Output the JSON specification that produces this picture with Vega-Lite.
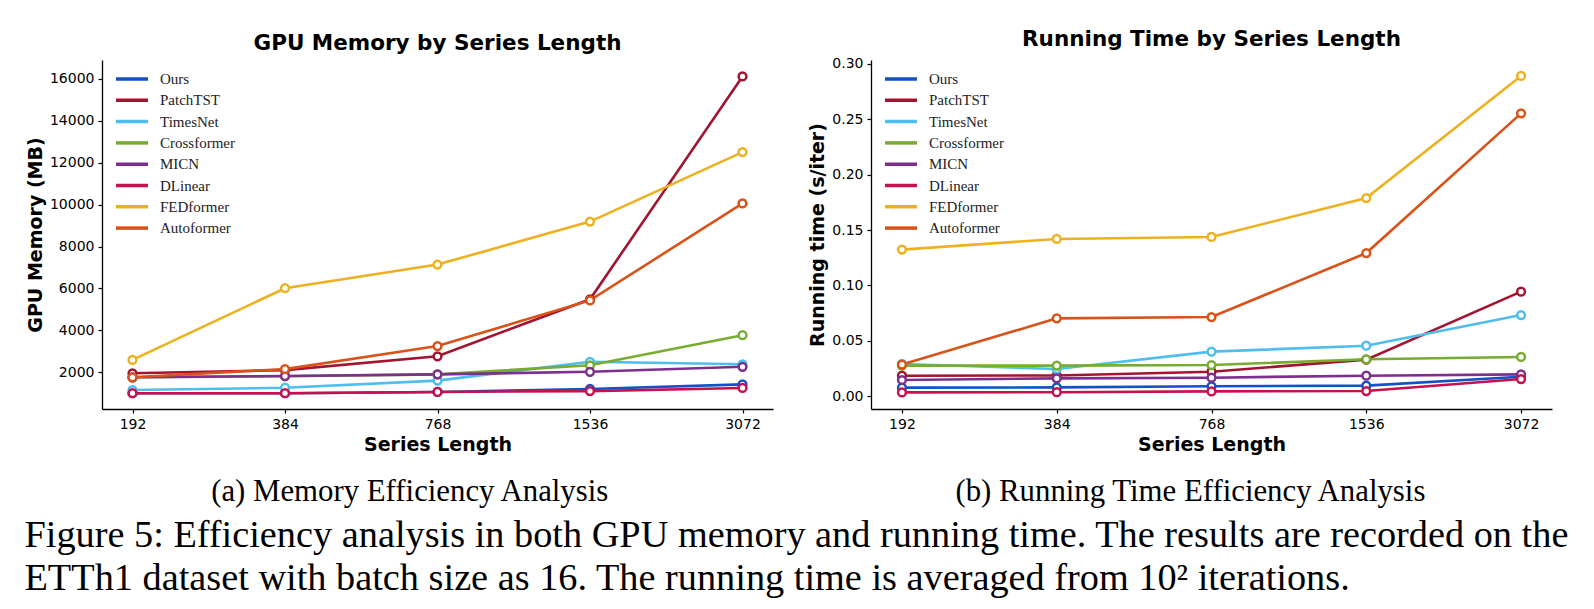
{
  "$schema": "https://vega.github.io/schema/vega-lite/v6.json",
  "background": "white",
  "padding": {"left": 24, "top": 29, "right": 5, "bottom": 5},
  "spacing": 35,
  "datasets": {
    "mem": [
      {"len": "192", "model": "Ours", "v": 1000}, {"len": "384", "model": "Ours", "v": 1000}, {"len": "768", "model": "Ours", "v": 1060}, {"len": "1536", "model": "Ours", "v": 1200}, {"len": "3072", "model": "Ours", "v": 1420},
      {"len": "192", "model": "PatchTST", "v": 1950}, {"len": "384", "model": "PatchTST", "v": 2100}, {"len": "768", "model": "PatchTST", "v": 2760}, {"len": "1536", "model": "PatchTST", "v": 5480}, {"len": "3072", "model": "PatchTST", "v": 16120},
      {"len": "192", "model": "TimesNet", "v": 1150}, {"len": "384", "model": "TimesNet", "v": 1260}, {"len": "768", "model": "TimesNet", "v": 1600}, {"len": "1536", "model": "TimesNet", "v": 2500}, {"len": "3072", "model": "TimesNet", "v": 2380},
      {"len": "192", "model": "Crossformer", "v": 1760}, {"len": "384", "model": "Crossformer", "v": 1810}, {"len": "768", "model": "Crossformer", "v": 1900}, {"len": "1536", "model": "Crossformer", "v": 2330}, {"len": "3072", "model": "Crossformer", "v": 3770},
      {"len": "192", "model": "MICN", "v": 1760}, {"len": "384", "model": "MICN", "v": 1820}, {"len": "768", "model": "MICN", "v": 1900}, {"len": "1536", "model": "MICN", "v": 2020}, {"len": "3072", "model": "MICN", "v": 2260},
      {"len": "192", "model": "DLinear", "v": 1000}, {"len": "384", "model": "DLinear", "v": 1000}, {"len": "768", "model": "DLinear", "v": 1060}, {"len": "1536", "model": "DLinear", "v": 1100}, {"len": "3072", "model": "DLinear", "v": 1250},
      {"len": "192", "model": "FEDformer", "v": 2590}, {"len": "384", "model": "FEDformer", "v": 6010}, {"len": "768", "model": "FEDformer", "v": 7140}, {"len": "1536", "model": "FEDformer", "v": 9190}, {"len": "3072", "model": "FEDformer", "v": 12510},
      {"len": "192", "model": "Autoformer", "v": 1760}, {"len": "384", "model": "Autoformer", "v": 2150}, {"len": "768", "model": "Autoformer", "v": 3250}, {"len": "1536", "model": "Autoformer", "v": 5430}, {"len": "3072", "model": "Autoformer", "v": 10060}
    ],
    "time": [
      {"len": "192", "model": "Ours", "v": 0.0076}, {"len": "384", "model": "Ours", "v": 0.0078}, {"len": "768", "model": "Ours", "v": 0.0088}, {"len": "1536", "model": "Ours", "v": 0.0094}, {"len": "3072", "model": "Ours", "v": 0.0175},
      {"len": "192", "model": "PatchTST", "v": 0.0184}, {"len": "384", "model": "PatchTST", "v": 0.0186}, {"len": "768", "model": "PatchTST", "v": 0.022}, {"len": "1536", "model": "PatchTST", "v": 0.0329}, {"len": "3072", "model": "PatchTST", "v": 0.0943},
      {"len": "192", "model": "TimesNet", "v": 0.029}, {"len": "384", "model": "TimesNet", "v": 0.0244}, {"len": "768", "model": "TimesNet", "v": 0.0401}, {"len": "1536", "model": "TimesNet", "v": 0.0455}, {"len": "3072", "model": "TimesNet", "v": 0.0732},
      {"len": "192", "model": "Crossformer", "v": 0.0275}, {"len": "384", "model": "Crossformer", "v": 0.0275}, {"len": "768", "model": "Crossformer", "v": 0.028}, {"len": "1536", "model": "Crossformer", "v": 0.0332}, {"len": "3072", "model": "Crossformer", "v": 0.0353},
      {"len": "192", "model": "MICN", "v": 0.0145}, {"len": "384", "model": "MICN", "v": 0.016}, {"len": "768", "model": "MICN", "v": 0.0166}, {"len": "1536", "model": "MICN", "v": 0.0184}, {"len": "3072", "model": "MICN", "v": 0.0196},
      {"len": "192", "model": "DLinear", "v": 0.0033}, {"len": "384", "model": "DLinear", "v": 0.0035}, {"len": "768", "model": "DLinear", "v": 0.0042}, {"len": "1536", "model": "DLinear", "v": 0.0045}, {"len": "3072", "model": "DLinear", "v": 0.0154},
      {"len": "192", "model": "FEDformer", "v": 0.1323}, {"len": "384", "model": "FEDformer", "v": 0.1419}, {"len": "768", "model": "FEDformer", "v": 0.1437}, {"len": "1536", "model": "FEDformer", "v": 0.1789}, {"len": "3072", "model": "FEDformer", "v": 0.2892},
      {"len": "192", "model": "Autoformer", "v": 0.0284}, {"len": "384", "model": "Autoformer", "v": 0.0702}, {"len": "768", "model": "Autoformer", "v": 0.0714}, {"len": "1536", "model": "Autoformer", "v": 0.1292}, {"len": "3072", "model": "Autoformer", "v": 0.2554}
    ]
  },
  "title": {
    "text": ["Figure 5: Efficiency analysis in both GPU memory and running time. The results are recorded on the", "ETTh1 dataset with batch size as 16. The running time is averaged from 10² iterations."],
    "orient": "bottom",
    "anchor": "start",
    "font": "Liberation Serif",
    "fontSize": 38.3,
    "fontWeight": "normal",
    "lineHeight": 43,
    "color": "black",
    "offset": 10,
    "dx": -2
  },
  "hconcat": [
    {
      "title": {"text": "(a) Memory Efficiency Analysis", "orient": "bottom", "anchor": "middle", "font": "Liberation Serif", "fontSize": 30.8, "fontWeight": "normal", "color": "black", "offset": 23, "dx": 10},
      "vconcat": [
        {
          "width": 671,
          "height": 349,
          "data": {"name": "mem"},
          "title": {"text": "GPU Memory by Series Length", "font": "DejaVu Sans", "fontSize": 21.5, "fontWeight": "bold", "color": "black", "offset": 6, "anchor": "middle"},
          "encoding": {
            "x": {"field": "len", "type": "ordinal", "sort": ["192", "384", "768", "1536", "3072"], "scale": {"type": "point", "padding": 0.2}, "axis": {"title": "Series Length", "labelAngle": 0}},
            "y": {"field": "v", "type": "quantitative", "scale": {"domain": [245, 16905], "nice": false, "zero": false}, "axis": {"title": "GPU Memory (MB)", "values": [2000, 4000, 6000, 8000, 10000, 12000, 14000, 16000], "format": "d"}},
            "color": {"field": "model", "type": "nominal", "sort": ["Ours", "PatchTST", "TimesNet", "Crossformer", "MICN", "DLinear", "FEDformer", "Autoformer"],
              "scale": {"domain": ["Ours", "PatchTST", "TimesNet", "Crossformer", "MICN", "DLinear", "FEDformer", "Autoformer"], "range": ["#1152C6", "#A2142F", "#4DBEEE", "#77AC30", "#7E2F8E", "#C7114F", "#EDB120", "#D95319"]},
              "legend": {"orient": "none", "legendX": 12, "legendY": 11, "title": null, "symbolType": "stroke", "symbolSize": 1024, "symbolStrokeWidth": 3.5, "clipHeight": 16, "rowPadding": 5.3, "labelFont": "Liberation Serif", "labelFontSize": 15, "labelColor": "#222", "labelOffset": 10, "padding": 0}
            }
          },
          "layer": [
            {"mark": {"type": "line", "strokeWidth": 2.6}},
            {"mark": {"type": "point", "shape": "circle", "filled": false, "fill": "white", "fillOpacity": 1, "opacity": 1, "size": 60, "strokeWidth": 2.5}}
          ]
        }
      ]
    },
    {
      "title": {"text": "(b) Running Time Efficiency Analysis", "orient": "bottom", "anchor": "middle", "font": "Liberation Serif", "fontSize": 30.8, "fontWeight": "normal", "color": "black", "offset": 23, "dx": 10},
      "vconcat": [
        {
          "width": 681,
          "height": 349,
          "data": {"name": "time"},
          "title": {"text": "Running Time by Series Length", "font": "DejaVu Sans", "fontSize": 21.5, "fontWeight": "bold", "color": "black", "offset": 6, "anchor": "middle"},
          "encoding": {
            "x": {"field": "len", "type": "ordinal", "sort": ["192", "384", "768", "1536", "3072"], "scale": {"type": "point", "padding": 0.2}, "axis": {"title": "Series Length", "labelAngle": 0}},
            "y": {"field": "v", "type": "quantitative", "scale": {"domain": [-0.0117, 0.3036], "nice": false, "zero": false}, "axis": {"title": "Running time (s/iter)", "values": [0, 0.05, 0.1, 0.15, 0.2, 0.25, 0.3], "format": ".2f"}},
            "color": {"field": "model", "type": "nominal", "sort": ["Ours", "PatchTST", "TimesNet", "Crossformer", "MICN", "DLinear", "FEDformer", "Autoformer"],
              "scale": {"domain": ["Ours", "PatchTST", "TimesNet", "Crossformer", "MICN", "DLinear", "FEDformer", "Autoformer"], "range": ["#1152C6", "#A2142F", "#4DBEEE", "#77AC30", "#7E2F8E", "#C7114F", "#EDB120", "#D95319"]},
              "legend": {"orient": "none", "legendX": 12, "legendY": 11, "title": null, "symbolType": "stroke", "symbolSize": 1024, "symbolStrokeWidth": 3.5, "clipHeight": 16, "rowPadding": 5.3, "labelFont": "Liberation Serif", "labelFontSize": 15, "labelColor": "#222", "labelOffset": 10, "padding": 0}
            }
          },
          "layer": [
            {"mark": {"type": "line", "strokeWidth": 2.6}},
            {"mark": {"type": "point", "shape": "circle", "filled": false, "fill": "white", "fillOpacity": 1, "opacity": 1, "size": 60, "strokeWidth": 2.5}}
          ]
        }
      ]
    }
  ],
  "resolve": {"scale": {"color": "independent"}},
  "config": {
    "view": {"stroke": null},
    "axis": {
      "grid": false,
      "labelFont": "DejaVu Sans",
      "labelFontSize": 14,
      "labelColor": "black",
      "titleFont": "DejaVu Sans",
      "titleFontSize": 19,
      "titleFontWeight": "bold",
      "titleColor": "black",
      "domainColor": "black",
      "domainWidth": 1.3,
      "tickColor": "black",
      "tickWidth": 1.2,
      "tickSize": 4,
      "labelPadding": 4
    },
    "concat": {"spacing": 35}
  }
}
